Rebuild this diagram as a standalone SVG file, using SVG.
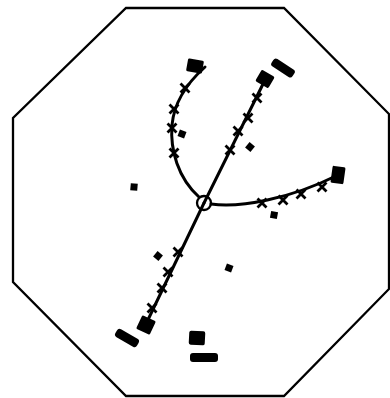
<svg xmlns="http://www.w3.org/2000/svg" width="390" height="398" viewBox="0 0 390 398">
<defs>
<style>
.o{fill:none;stroke:#000;stroke-width:2.3}
.l{fill:none;stroke:#000;stroke-width:3;stroke-linecap:round}
.x{fill:none;stroke:#000;stroke-width:2.8}
.b{fill:#000}
</style>
<path id="xm" d="M-4.5,-4.5L4.5,4.5M-4.5,4.5L4.5,-4.5" class="x"/>
</defs>
<rect width="390" height="398" fill="#fff"/>
<polygon class="o" points="126,8 284,8 389,114 389,289 284,396 126,396 13,282 13,118"/>
<g id="connectors">
<path class="l" d="M199,197 C178,178 170,150 172,125 C174,103 186,84 205,67"/>
<path class="l" d="M204,203 L265,80"/>
<path class="l" d="M211,204 C240,208 290,199 338,175"/>
<path class="l" d="M204,203 L145,326"/>
</g>
<circle cx="204" cy="203" r="7" class="o" stroke-width="2.6"/>
<g id="marks">
<use href="#xm" x="185" y="88"/>
<use href="#xm" x="174" y="109"/>
<use href="#xm" x="172" y="128"/>
<use href="#xm" x="174" y="153"/>
<use href="#xm" x="257" y="98"/>
<use href="#xm" x="248" y="118"/>
<use href="#xm" x="238" y="131"/>
<use href="#xm" x="230" y="150"/>
<use href="#xm" x="262" y="203"/>
<use href="#xm" x="283" y="200"/>
<use href="#xm" x="301" y="194"/>
<use href="#xm" x="322" y="187"/>
<use href="#xm" x="178" y="252"/>
<use href="#xm" x="168" y="272"/>
<use href="#xm" x="162" y="288"/>
<use href="#xm" x="152" y="308"/>
</g>
<g id="blocks">
<rect class="b" x="-8" y="-6.5" width="16" height="13" rx="1.5" transform="translate(195,66) rotate(10)"/>
<rect class="b" x="-7.5" y="-6.5" width="15" height="13" rx="1.5" transform="translate(265,79) rotate(30)"/>
<rect class="b" x="-12.5" y="-4.5" width="25" height="9" rx="3" transform="translate(283,68) rotate(33)"/>
<rect class="b" x="-6.5" y="-8.5" width="13" height="17" rx="1.5" transform="translate(338,175) rotate(8)"/>
<rect class="b" x="-7.5" y="-7.5" width="15" height="15" rx="1.5" transform="translate(146,325) rotate(25)"/>
<rect class="b" x="-12.5" y="-4.5" width="25" height="9" rx="3" transform="translate(127,338) rotate(30)"/>
<rect class="b" x="-8" y="-7" width="16" height="14" rx="2" transform="translate(197,338) rotate(3)"/>
<rect class="b" x="190" y="353" width="28" height="9" rx="3"/>
</g>
<g id="dots">
<rect class="b" x="-3.5" y="-3.5" width="7" height="7" transform="translate(182,134) rotate(20)"/>
<rect class="b" x="-3.5" y="-3.5" width="7" height="7" transform="translate(250,147) rotate(40)"/>
<rect class="b" x="-3.5" y="-3.5" width="7" height="7" transform="translate(134,187) rotate(5)"/>
<rect class="b" x="-3.5" y="-3.5" width="7" height="7" transform="translate(274,215) rotate(10)"/>
<rect class="b" x="-3.5" y="-3.5" width="7" height="7" transform="translate(158,256) rotate(40)"/>
<rect class="b" x="-3.5" y="-3.5" width="7" height="7" transform="translate(229,268) rotate(20)"/>
</g>
</svg>
